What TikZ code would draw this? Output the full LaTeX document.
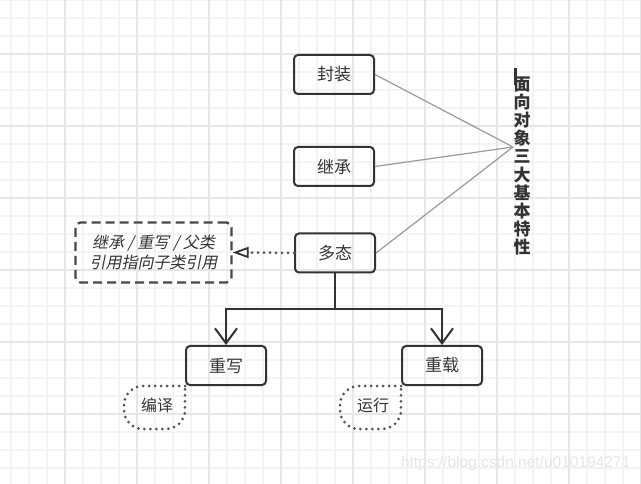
\documentclass[tikz,border=0pt]{standalone}
\usepackage{fontspec}
\newfontfamily\cjk{Noto Sans CJK SC}
\newfontfamily\cjkit[FakeSlant=0.2]{Noto Sans CJK SC}
\setsansfont{Liberation Sans}
\usetikzlibrary{arrows.meta,positioning}
\definecolor{ink}{HTML}{333333}
\definecolor{gridminor}{HTML}{F3F3F3}
\definecolor{gridmajor}{HTML}{E6E6E6}
\tikzset{
every picture/.style={
line width=2pt
}}

\begin{document}
\begin{tikzpicture}[x=1pt, y=-1pt,
box/.style = {rectangle, draw=ink, rounded corners=4pt, minimum width=80pt, minimum height=39pt, inner sep=0pt, font=\cjk\fontsize{17}{18}\selectfont, text=ink},
note/.style = {rectangle, draw=ink!90, line width=2.3pt, dash pattern=on 9pt off 5pt, rounded corners=5pt, minimum width=156pt, minimum height=60pt, align=center, font=\cjkit\fontsize{16}{20}\selectfont, text=ink},
tag/.style = {inner sep=0pt, font=\cjk\fontsize{16}{16}\selectfont, text=ink},
dots/.style = {draw=ink!85, line width=3pt, line cap=round, dash pattern=on 0pt off 6pt},
spoke/.style = {line width=1.2pt, draw=black!40},
branch/.style = {draw=ink, -{Straight Barb[length=15pt,width=22pt]}}]

\useasboundingbox (0,0) rectangle (641,484);
% grid
\foreach \x in {11,29,...,641} \draw[gridminor, line width=1.2pt] (\x,0) -- (\x,484);
\foreach \y in {0,18,...,484} \draw[gridminor, line width=1.2pt] (0,\y) -- (641,\y);
\foreach \x in {65,137,...,641} \draw[gridmajor, line width=1.2pt] (\x,0) -- (\x,484);
\foreach \y in {54,126,...,484} \draw[gridmajor, line width=1.2pt] (0,\y) -- (641,\y);

\node [box] at (334,74.5) (fengzhuang) {封装};
\node [box] at (334,166.5) (jicheng) {继承};
\node [box] at (335,253) (duotai) {多态};
\node [note] at (153.5,252.5) (remark) {继承 / 重写 / 父类\\引用指向子类引用};

\node [box] at (226,365.5) (chongxie) {重写};
\node [box] at (442,365.5) (chongzai) {重载};

\node [align=center, inner sep=0pt, text=ink, font=\cjk\bfseries\fontsize{17}{18.2}\selectfont] at (522,166) (title) {面\\向\\对\\象\\三\\大\\基\\本\\特\\性};
\fill [ink] (514,68) rectangle (516.5,85);
\coordinate (hub) at (513,147);

\draw [spoke] (fengzhuang.east) -- (hub);
\draw [spoke] (jicheng.east) -- (hub);
\draw [spoke] (duotai.east) -- (hub);

\draw [dots] (duotai.west) -- ([xshift=16pt]remark.east);
\draw [draw=ink, line width=1.8pt, -{Triangle[open, length=16pt, width=11pt]}] ([xshift=16pt]remark.east) -- (remark.east);

\draw [draw=ink] (duotai.south) -- ++(0,36) coordinate (fork);
\draw [branch] (fork) -| (chongxie);
\draw [branch] (fork) -| (chongzai);

\node [tag] at (157,405.5) (bianyi) {编译};
\node [tag] at (373,405.5) (yunxing) {运行};
\draw [dots, rounded corners=19pt] (chongxie.south west) -- ++(-61,0) -- ++(0,43) -- ++(61,0) -- (chongxie.south west);
\draw [dots, rounded corners=19pt] (chongzai.south west) -- ++(-61,0) -- ++(0,43) -- ++(61,0) -- (chongzai.south west);

\node [anchor=west, inner sep=0pt, text=black!10, font=\sffamily\fontsize{15.5}{16}\selectfont] at (400,463) (mark) {https://blog.csdn.net/u010194271};
\end{tikzpicture}
\end{document}
